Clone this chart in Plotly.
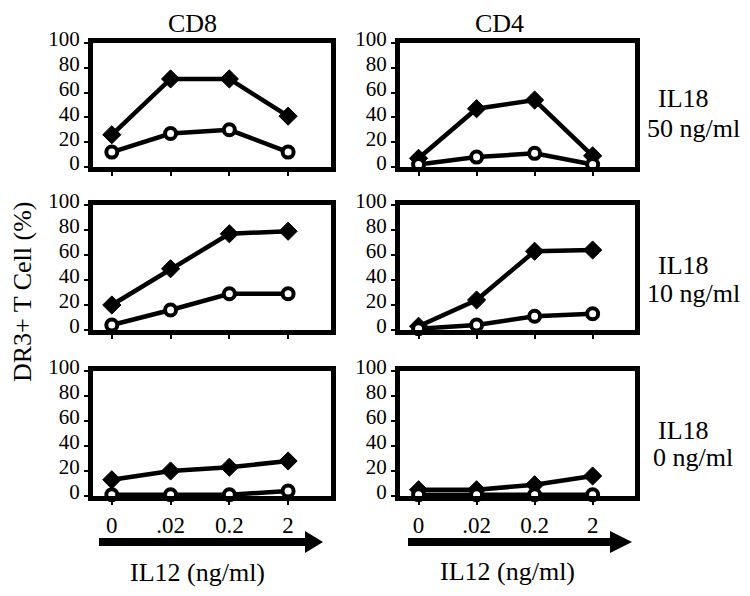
import plotly.graph_objects as go

# ---- data ----
doses = ["0", ".02", "0.2", "2"]
columns = ["CD8", "CD4"]
rows = ["50 ng/ml", "10 ng/ml", "0 ng/ml"]

cd8_il18_50_filled = [26, 71, 71, 41]
cd8_il18_50_open = [12, 27, 30, 12]
cd4_il18_50_filled = [7, 47, 54, 9]
cd4_il18_50_open = [2, 8, 11, 2]

cd8_il18_10_filled = [20, 49, 77, 79]
cd8_il18_10_open = [4, 16, 29, 29]
cd4_il18_10_filled = [3, 24, 63, 64]
cd4_il18_10_open = [1, 4, 11, 13]

cd8_il18_0_filled = [13, 20, 23, 28]
cd8_il18_0_open = [1, 1, 1, 4]
cd4_il18_0_filled = [5, 5, 9, 16]
cd4_il18_0_open = [1, 1, 1, 1]

y_ticks = [0, 20, 40, 60, 80, 100]

panels = [
    (cd8_il18_50_filled, cd8_il18_50_open),
    (cd4_il18_50_filled, cd4_il18_50_open),
    (cd8_il18_10_filled, cd8_il18_10_open),
    (cd4_il18_10_filled, cd4_il18_10_open),
    (cd8_il18_0_filled, cd8_il18_0_open),
    (cd4_il18_0_filled, cd4_il18_0_open),
]

W, H = 750, 596
FONT = "Liberation Serif"

def px_x(p):
    return p / W

def px_y(p):
    return 1 - p / H

col_dom = [[px_x(93), px_x(331)], [px_x(400), px_x(635)]]
row_dom = [[px_y(167), px_y(43)], [px_y(330), px_y(205)], [px_y(496), px_y(371)]]

fig = go.Figure()
layout = dict(
    template="none",
    width=W, height=H, autosize=False,
    margin=dict(l=0, r=0, t=0, b=0, pad=0, autoexpand=False),
    paper_bgcolor="white", plot_bgcolor="white",
    showlegend=False,
    font=dict(family=FONT, color="black"),
)

for i, (filled, opened) in enumerate(panels):
    r, c = divmod(i, 2)
    n = i + 1
    xa = "x" if n == 1 else f"x{n}"
    ya = "y" if n == 1 else f"y{n}"
    fig.add_trace(go.Scatter(
        x=doses, y=filled, xaxis=xa, yaxis=ya, mode="lines+markers",
        line=dict(color="black", width=4.5),
        marker=dict(symbol="diamond", size=14, color="black",
                    line=dict(color="black", width=1)),
        cliponaxis=False, name="filled"))
    fig.add_trace(go.Scatter(
        x=doses, y=opened, xaxis=xa, yaxis=ya, mode="lines+markers",
        line=dict(color="black", width=4.5),
        marker=dict(symbol="circle", size=11, color="white",
                    line=dict(color="black", width=4)),
        cliponaxis=False, name="open"))
    xk = "xaxis" if n == 1 else f"xaxis{n}"
    yk = "yaxis" if n == 1 else f"yaxis{n}"
    layout[xk] = dict(
        domain=col_dom[c], anchor=ya, type="category", automargin=False,
        range=[-0.32, 3.73],
        showline=True, mirror=True, linecolor="black", linewidth=5,
        showgrid=False, zeroline=False,
        ticks="outside", ticklen=4, tickwidth=1.5, tickcolor="black",
        showticklabels=(r == 2),
        tickfont=dict(family=FONT, size=23, color="black"),
    )
    layout[yk] = dict(
        domain=row_dom[r], anchor=xa, automargin=False,
        range=[0, 100], tickvals=y_ticks,
        showline=True, mirror=True, linecolor="black", linewidth=5,
        showgrid=False, zeroline=False,
        ticks="outside", ticklen=4, tickwidth=1.5, tickcolor="black",
        tickfont=dict(family=FONT, size=21, color="black"),
        ticklabelshift=-4,
    )

annotations = []
def txt(text, x, y, size, angle=0):
    annotations.append(dict(text=text, x=px_x(x), y=px_y(y), xref="paper", yref="paper",
                            showarrow=False, xanchor="center", yanchor="middle",
                            textangle=angle,
                            font=dict(family=FONT, size=size, color="black")))

txt(columns[0], 192, 23, 26)
txt(columns[1], 499, 23, 26)
for (yy1, yy2), lab in zip([(98, 128), (265, 293), (430, 458)], rows):
    txt("IL18", 683, yy1, 26)
    txt(lab, 693, yy2, 26)
txt("DR3+ T Cell (%)", 22, 292, 26, angle=-90)
txt("IL12 (ng/ml)", 197, 572, 26)
txt("IL12 (ng/ml)", 507, 571, 26)
layout["annotations"] = annotations

shapes = []
for x0, xb, xt in [(99, 305, 323), (408, 610, 632)]:
    shapes.append(dict(type="rect", xref="paper", yref="paper",
                       x0=px_x(x0), x1=px_x(xb + 2), y0=px_y(546), y1=px_y(538),
                       fillcolor="black", line=dict(width=0)))
    shapes.append(dict(type="path", xref="paper", yref="paper",
                       path=f"M {px_x(xb)} {px_y(531)} L {px_x(xt)} {px_y(542)} L {px_x(xb)} {px_y(553)} Z",
                       fillcolor="black", line=dict(width=0)))
layout["shapes"] = shapes

fig.update_layout(**layout)
fig.write_html(
    "out.html",
    config={"displayModeBar": False},
    post_script="document.body.style.margin='0';document.body.style.overflow='hidden';",
)
